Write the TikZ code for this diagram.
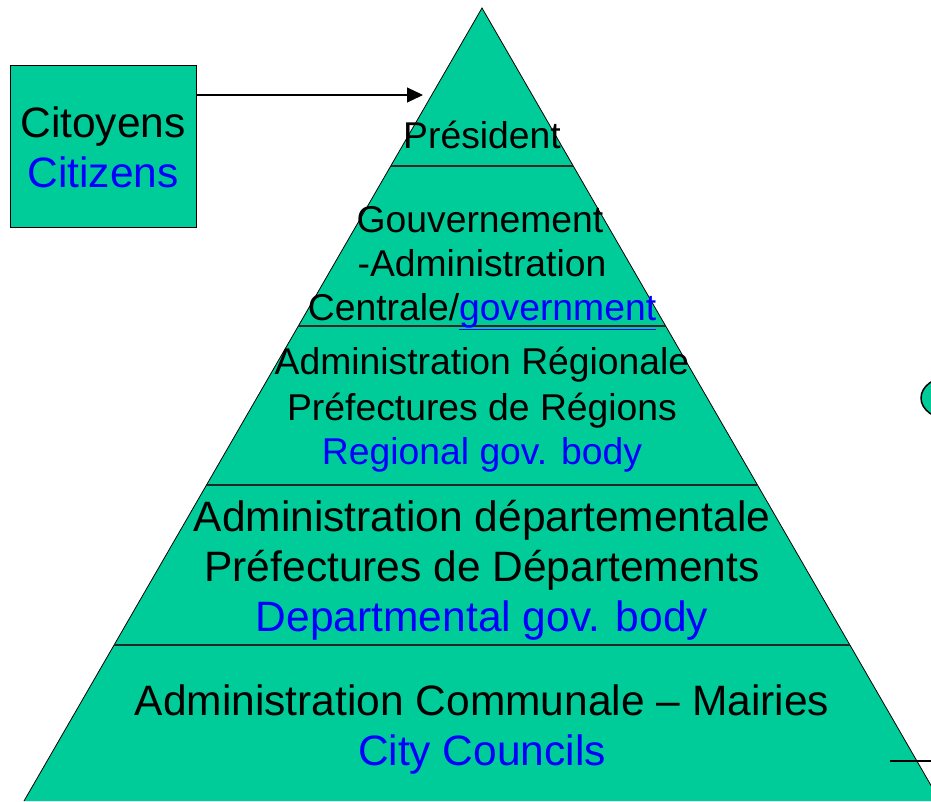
\documentclass[tikz,border=0pt]{standalone}
\usepackage{fontspec}
\setmainfont{Liberation Sans}
\usetikzlibrary{arrows.meta,calc,shapes.geometric}
\definecolor{pgreen}{HTML}{00CC99}
\definecolor{pblue}{HTML}{0000FF}
\begin{document}
\begin{tikzpicture}[x=1pt,y=-1pt,
  big/.style={font=\fontsize{42.5}{50}\selectfont, inner sep=0pt, anchor=base},
  small/.style={font=\fontsize{37.3}{45}\selectfont, inner sep=0pt, anchor=base},
  en/.style={text=pblue},
  divider/.style={draw=black!85, line width=1.2pt}]
\useasboundingbox (0,0) rectangle (931,801);
\clip (0,0) rectangle (931,801);
% pyramid
\coordinate (apex) at (482,8);
\coordinate (bl) at (24,801);
\coordinate (br) at (940,801);
\fill[pgreen] (bl) -- (apex) -- (br) -- cycle;
\draw[line width=0.8pt] (bl) -- (apex) -- (br);
\foreach \t in {0.19924,0.40101,0.60151,0.80328}
  \draw[divider] ($(apex)!\t!(bl)$) -- ($(apex)!\t!(br)$);
% right side shapes
\node[ellipse, draw, fill=pgreen, line width=1.5pt, minimum width=60pt, minimum height=43pt, inner sep=0pt] (eye) at (951,398) {};
\coordinate (lineL) at (890,761);
\coordinate (lineR) at (931,761);
\draw[line width=1.5pt] (lineL) -- (lineR);
% citizens box
\node[draw, fill=pgreen, line width=1pt, minimum width=186pt, minimum height=162pt, inner sep=0pt] (cit) at (103,146) {};
\node[big] (cit1) at (103,137) {Citoyens};
\node[big, en] (cit2) at (103,187) {Citizens};
\coordinate (tip) at (423,95);
\draw[-{Triangle[length=16pt,width=15pt]}, line width=1.2pt] (cit.east |- tip) -- (tip);
% level texts
\node[small] (pres) at (482,148) {Président};
\node[small] (gov1) at (480,232) {Gouvernement};
\node[small] (gov2) at (482,276) {-Administration};
\node[small] (gov3) at (482,320) {Centrale/\textcolor{pblue}{\underline{government}}};
\node[small] (reg1) at (482,374) {Administration Régionale};
\node[small] (reg2) at (482,420) {Préfectures de Régions};
\node[small, en] (reg3) at (482,464) {Regional gov. body};
\node[big] (dep1) at (482,531) {Administration départementale};
\node[big] (dep2) at (482,581) {Préfectures de Départements};
\node[big, en] (dep3) at (482,631) {Departmental gov. body};
\node[big] (com1) at (482,715) {Administration Communale – Mairies};
\node[big, en] (com2) at (482,765) {City Councils};
\end{tikzpicture}
\end{document}
